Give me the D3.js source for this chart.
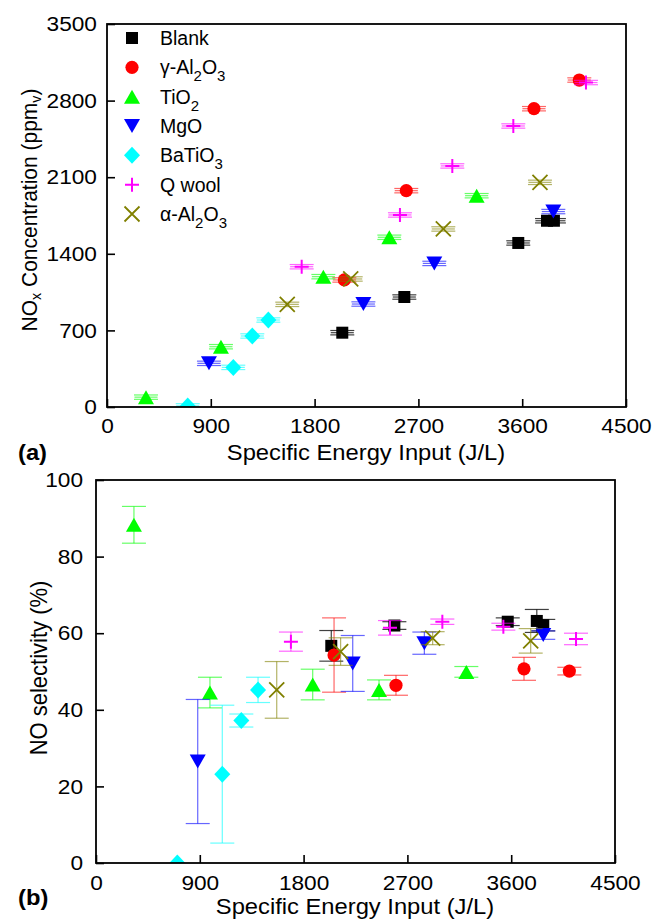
<!DOCTYPE html>
<html><head><meta charset="utf-8">
<script src="https://cdn.jsdelivr.net/npm/d3@7"></script>
<style>body{margin:0;background:#fff} text{font-family:"Liberation Sans",Arial,sans-serif;fill:#000}</style>
</head><body><svg id="c" width="654" height="922"></svg>
<script>
// ---------- tick labels ----------
const xTicks = [0, 900, 1800, 2700, 3600, 4500];
const yTicksA = [0, 700, 1400, 2100, 2800, 3500];
const yTicksB = [0, 20, 40, 60, 80, 100];

// ---------- panel (a): NOx concentration ----------
const blankX_a = [2040, 2578, 3566, 3815, 3875];
const blankY_a = [679, 1005, 1499, 1702, 1702];
const gammaX_a = [2058, 2595, 3702, 4095];
const gammaY_a = [1161, 1977, 2726, 2988];
const tio2X_a = [338, 988, 1876, 2448, 3205];
const tio2Y_a = [90, 551, 1191, 1551, 1931];
const mgoX_a = [884, 2223, 2838, 3870];
const mgoY_a = [399, 941, 1312, 1786];
const batio3X_a = [700, 1095, 1260, 1399];
const batio3Y_a = [10, 362, 649, 795];
const qwoolX_a = [1688, 2540, 2994, 3523, 4153];
const qwoolY_a = [1282, 1755, 2203, 2568, 2965];
const alphaX_a = [1563, 2113, 2916, 3754];
const alphaY_a = [938, 1170, 1627, 2053];
const xErr_a = 100;   // J/L
const yErr_a = 20;    // ppm

// ---------- panel (b): NO selectivity ----------
const blankX_b = [2040, 2587, 3570, 3822, 3878];
const blankY_b = [56.7, 62.0, 63.0, 63.2, 62.1];
const blankE_b = [4, 1, 1, 3, 1.5];
const gammaX_b = [2064, 2601, 3711, 4104];
const gammaY_b = [54.3, 46.4, 50.7, 50.1];
const gammaE_b = [9.7, 2.6, 3, 1];
const tio2X_b = [329, 988, 1879, 2454, 3211];
const tio2Y_b = [88.3, 44.5, 46.6, 45.2, 49.9];
const tio2E_b = [4.8, 4, 4, 2.6, 1.4];
const mgoX_b = [882, 2226, 2847, 3878];
const mgoY_b = [26.5, 52.1, 57.4, 59.5];
const mgoE_b = [16.2, 7.3, 2.9, 1.1];
const batio3X_b = [705, 1095, 1260, 1405];
const batio3Y_b = [0, 23.2, 37.2, 45.2];
const batio3E_b = [0, 18, 1.7, 3.3];
const qwoolX_b = [1690, 2549, 3003, 3532, 4162];
const qwoolY_b = [57.8, 61.4, 63, 61.7, 58.5];
const qwoolE_b = [2.5, 1.9, 0.7, 0.9, 1.5];
const alphaX_b = [1567, 2121, 2919, 3769];
const alphaY_b = [45.2, 55.2, 58.7, 58];
const alphaE_b = [7.4, 3.6, 1.7, 3.2];

const seriesNames = ["Blank", "γ-Al2O3", "TiO2", "MgO", "BaTiO3", "Q wool", "α-Al2O3"];
const colors = ["#000000", "#ff0000", "#00ff00", "#0000ff", "#00ffff", "#ff00ff", "#808000"];
const shapes = ["square", "circle", "up", "down", "diamond", "plus", "times"];

const seriesA = [
  [blankX_a, blankY_a], [gammaX_a, gammaY_a], [tio2X_a, tio2Y_a], [mgoX_a, mgoY_a],
  [batio3X_a, batio3Y_a], [qwoolX_a, qwoolY_a], [alphaX_a, alphaY_a]
];
const seriesB = [
  [blankX_b, blankY_b, blankE_b], [gammaX_b, gammaY_b, gammaE_b], [tio2X_b, tio2Y_b, tio2E_b],
  [mgoX_b, mgoY_b, mgoE_b], [batio3X_b, batio3Y_b, batio3E_b], [qwoolX_b, qwoolY_b, qwoolE_b],
  [alphaX_b, alphaY_b, alphaE_b]
];

// ---------- drawing ----------
const svg = d3.select("#c");
const SX = 1.08;       // horizontal stretch of the lettering
const FS = 21;

function markerPath(shape) {
  switch (shape) {
    case "square": return "M-6,-6H6V6H-6Z";
    case "circle": return d3.symbol(d3.symbolCircle, Math.PI * 6.6 * 6.6)();
    case "up": return "M0,-7L8,7L-8,7Z";
    case "down": return "M0,7L8,-7L-8,-7Z";
    case "diamond": return "M0,-8.5L8,0L0,8.5L-8,0Z";
    case "plus": return "M-7,0H7M0,-7V7";
    case "times": return "M-7.5,-7.5L7.5,7.5M-7.5,7.5L7.5,-7.5";
  }
}
function styleMarker(sel, i) {
  const s = shapes[i];
  if (s === "plus" || s === "times") {
    sel.attr("fill", "none").attr("stroke", colors[i]).attr("stroke-width", s === "plus" ? 2 : 1.8);
  } else {
    sel.attr("fill", colors[i]).attr("stroke", "none");
  }
}

function panel(cfg) {
  const x = d3.scaleLinear().domain([0, 4500]).range([cfg.l, cfg.r]);
  const y = d3.scaleLinear().domain([0, cfg.ymax]).range([cfg.b, cfg.t]);
  const g = svg.append("g");
  const clipId = "clip" + cfg.id;
  svg.append("clipPath").attr("id", clipId).append("rect")
    .attr("x", cfg.l).attr("y", cfg.t).attr("width", cfg.r - cfg.l).attr("height", cfg.b - cfg.t);

  const xa = g.append("g").attr("transform", `translate(0,${cfg.b})`)
    .call(d3.axisBottom(x).tickValues(xTicks).tickSize(-8).tickSizeOuter(0).tickPadding(cfg.xpad).tickFormat(d3.format("d")));
  const ya = g.append("g").attr("transform", `translate(${cfg.l},0)`)
    .call(d3.axisLeft(y).tickValues(cfg.yticks).tickSize(-8).tickSizeOuter(0).tickPadding(cfg.ypad).tickFormat(d3.format("d")));
  [xa, ya].forEach(a => {
    a.select(".domain").remove();
    a.selectAll(".tick line").attr("stroke", "#000").attr("stroke-width", 1.6);
    a.selectAll(".tick text").attr("font-size", FS).attr("font-family", "Liberation Sans, Arial, sans-serif")
      .attr("fill", "#000").attr("transform", `scale(${SX},1)`);
  });

  const plot = g.append("g").attr("clip-path", `url(#${clipId})`);
  cfg.series.forEach((sr, i) => {
    const pts = sr[0].map((xv, j) => ({ x: xv, y: sr[1][j], e: sr[2] ? sr[2][j] : null }));
    const eg = plot.append("g").attr("stroke", colors[i]).attr("stroke-opacity", i === 0 ? 0.75 : 0.6)
      .attr("stroke-width", 1.2).attr("fill", "none");
    pts.forEach(p => {
      const cx = x(p.x), cy = y(p.y);
      if (cfg.id === "a") {
        eg.append("line").attr("x1", x(p.x - xErr_a)).attr("x2", x(p.x + xErr_a)).attr("y1", cy).attr("y2", cy);
        [y(p.y - yErr_a), y(p.y + yErr_a)].forEach(yy =>
          eg.append("line").attr("x1", cx - 12).attr("x2", cx + 12).attr("y1", yy).attr("y2", yy));
      } else if (p.e > 0) {
        const y1 = y(p.y + p.e), y2 = y(p.y - p.e);
        eg.append("line").attr("x1", cx).attr("x2", cx).attr("y1", y1).attr("y2", y2);
        [y1, y2].forEach(yy =>
          eg.append("line").attr("x1", cx - 12).attr("x2", cx + 12).attr("y1", yy).attr("y2", yy));
      }
    });
    plot.append("g").selectAll("path").data(pts).join("path")
      .attr("d", markerPath(shapes[i]))
      .attr("transform", d => `translate(${x(d.x)},${y(d.y)})`)
      .call(styleMarker, i);
  });

  g.append("rect").attr("x", cfg.l).attr("y", cfg.t).attr("width", cfg.r - cfg.l).attr("height", cfg.b - cfg.t)
    .attr("fill", "none").attr("stroke", "#000").attr("stroke-width", 1.8);
  return { x, y, g };
}

const A = panel({ id: "a", l: 107, r: 626, t: 24, b: 407, ymax: 3500, yticks: yTicksA, series: seriesA, xpad: 11, ypad: 9.3 });
const B = panel({ id: "b", l: 96, r: 615, t: 480, b: 863, ymax: 100, yticks: yTicksB, series: seriesB, xpad: 12, ypad: 12 });

function stext(x, y, str, opts = {}) {
  const t = svg.append("text")
    .attr("transform", `translate(${x},${y}) scale(${SX},1)` + (opts.rot ? " rotate(-90)" : ""))
    .attr("font-size", opts.size || 22).attr("text-anchor", opts.anchor || "middle")
    .attr("font-weight", opts.bold ? "bold" : "normal");
  return t;
}
function addRich(t, parts, size) {
  parts.forEach(p => {
    if (typeof p === "string") t.append("tspan").text(p);
    else t.append("tspan").attr("font-size", size * 0.68).attr("baseline-shift", p.sub ? "-28%" : "0").text(p.t);
  });
}
// axis titles
stext(366, 460, "").text("Specific Energy Input (J/L)");
stext(355, 914, "").text("Specific Energy Input (J/L)");
addRich(stext(37, 210, "", { rot: true, size: 21 }), ["NO", { t: "x", sub: true }, " Concentration (ppm", { t: "v", sub: true }, ")"], 21);
stext(47, 668, "", { rot: true }).text("NO selectivity (%)");
// panel labels
stext(18, 460, "", { anchor: "start", bold: true, size: 22 }).text("(a)");
stext(18, 905, "", { anchor: "start", bold: true, size: 22 }).text("(b)");

// legend
const legendParts = [
  ["Blank"],
  ["γ-Al", { t: "2", sub: true }, "O", { t: "3", sub: true }],
  ["TiO", { t: "2", sub: true }],
  ["MgO"],
  ["BaTiO", { t: "3", sub: true }],
  ["Q wool"],
  ["α-Al", { t: "2", sub: true }, "O", { t: "3", sub: true }]
];
const legY = d3.scaleLinear().domain([0, 6]).range([38, 214]);
const lg = svg.append("g");
seriesNames.forEach((name, i) => {
  const cy = legY(i);
  lg.append("path").attr("d", markerPath(shapes[i])).attr("transform", `translate(132,${cy})`).call(styleMarker, i);
  const t = lg.append("text").attr("x", 160).attr("y", cy + 7).attr("font-size", 19.5);
  legendParts[i].forEach(p => {
    if (typeof p === "string") t.append("tspan").text(p);
    else t.append("tspan").attr("font-size", 15).attr("dy", 7).text(p.t).call(s => s.attr("data-sub", 1));
  });
  t.selectAll("tspan").each(function (d, k, nodes) {
    const el = d3.select(this);
    if (!el.attr("data-sub") && k > 0 && d3.select(nodes[k - 1]).attr("data-sub")) el.attr("dy", -7);
  });
});
</script></body></html>
